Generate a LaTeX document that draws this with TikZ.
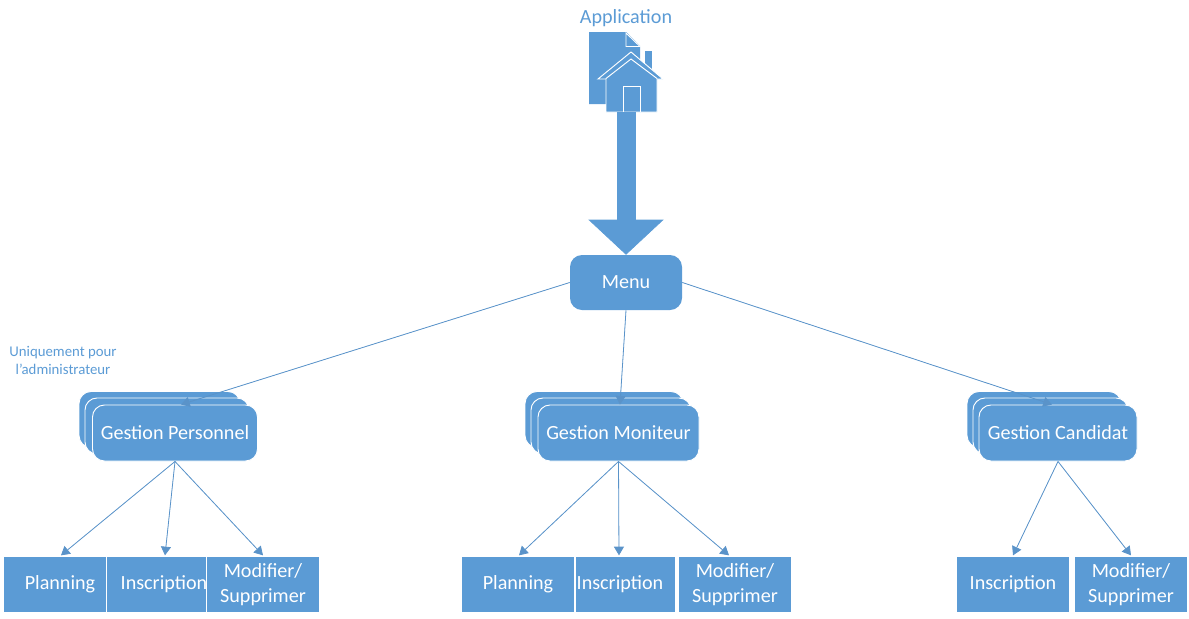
\documentclass[tikz,border=0pt]{standalone}
\usepackage{fontspec}
\setmainfont{Carlito}
\usepackage{xcolor}
\usetikzlibrary{arrows.meta,positioning,calc}
\definecolor{appblue}{HTML}{5B9BD5}
\definecolor{linkblue}{HTML}{5A93C9}

\begin{document}
\begin{tikzpicture}[
    x=0.75pt,y=-0.75pt,
    title/.style={text=appblue,font=\fontsize{15.1}{18}\selectfont},
    note/.style={text=appblue,align=center,font=\fontsize{11.1}{13}\selectfont},
    menubox/.style={rectangle,rounded corners=9pt,minimum width=84pt,minimum height=41.25pt,inner sep=0pt,fill=appblue,text=white,font=\fontsize{15.1}{18}\selectfont},
    stackbox/.style={rectangle,rounded corners=9pt,minimum height=42pt,inner sep=0pt,draw=white,line width=0.7pt,fill=appblue,text=white,font=\fontsize{15.1}{18}\selectfont},
    leafbox/.style={rectangle,minimum width=84.5pt,minimum height=41.75pt,inner sep=0pt,draw=white,line width=0.5pt,fill=appblue,text=white,align=center,font=\fontsize{15.1}{18.75}\selectfont},
    iconpart/.style={fill=appblue,draw=white,line width=0.7pt},
    arrow/.style={-{Triangle[length=6.5pt,width=7.5pt]},line width=0.6pt,draw=linkblue,fill=appblue},
    bigshaft/.style={line width=14.25pt,draw=appblue},
    bigarrow/.style={-{Triangle[length=26.25pt,width=56.25pt]},line width=0.5pt,draw=appblue}
]
\useasboundingbox (0,0) rectangle (1189,618);

% Title
\node[title] (app) at (626,18) {Application};

% Icon
\fill[appblue] (589,32) -- (626,32) -- (640,46) -- (640,70) -- (606,104) -- (589,104) -- cycle;
\filldraw[iconpart] (626,33) -- (640,46.5) -- (626,46.5) -- cycle;
\fill[appblue] (645,51) rectangle (652,70);
\filldraw[iconpart] (598,79) -- (631,52) -- (663,79) -- cycle;
\filldraw[iconpart] (606,112) -- (606,78.5) -- (631,59) -- (657,78.5) -- (657,112) -- cycle;
\draw[white,line width=0.7pt] (623,112) -- (623,86) -- (640,86) -- (640,112);
\coordinate (appfoot) at (626,112);
\coordinate (bighead) at (626,221);

% Menu
\node[menubox] (menu) at (626,282.5) {Menu};

% Note
\node[note] (adminnote) at (63,360.5) {Uniquement pour\\l'administrateur};

% Gestion Personnel
\node[stackbox,minimum width=120.75pt] (persback) at (159.5,419.5) {};
\node[stackbox,minimum width=123pt] (persmid) at (167,426) {};
\node[stackbox,minimum width=123.75pt] (persfront) at (175,433) {Gestion Personnel};

% Gestion Moniteur
\node[stackbox,minimum width=118.5pt] (moniback) at (604,419.5) {};
\node[stackbox,minimum width=120pt] (monimid) at (611,426) {};
\node[stackbox,minimum width=120.75pt] (monifront) at (618.5,433) {Gestion Moniteur};

% Gestion Candidat
\node[stackbox,minimum width=115.5pt] (candback) at (1044,419.5) {};
\node[stackbox,minimum width=116.25pt] (candmid) at (1050.5,426) {};
\node[stackbox,minimum width=118.5pt] (candfront) at (1058,433) {Gestion Candidat};

% Personnel actions
\node[leafbox,minimum width=77.75pt] (persplan) at (55.5,584.5) {\hspace*{6.75pt}Planning};
\node[leafbox,minimum width=75.25pt] (persins) at (157,584.5) {\hspace*{10.5pt}Inscription};
\node[leafbox] (persmod) at (263,584.5) {Modifier/\\Supprimer};

% Moniteur actions
\node[leafbox] (moniplan) at (518,584.5) {Planning};
\node[leafbox,minimum width=75.25pt] (moniins) at (625,584.5) {\hspace*{-7.5pt}Inscription};
\node[leafbox] (monimod) at (735,584.5) {Modifier/\\Supprimer};

% Candidat actions
\node[leafbox] (candins) at (1013,584.5) {Inscription};
\node[leafbox] (candmod) at (1131,584.5) {Modifier/\\Supprimer};

% Arrows
\draw[bigshaft] (appfoot) -- (bighead);
\draw[bigarrow] (bighead) -- (menu.north);
\draw[arrow] (menu.west) -- ($(persfront.north)+(6,0)$);
\draw[arrow] (menu.south) -- ($(monifront.north)+(1.5,0)$);
\draw[arrow] (menu.east) -- ($(candfront.north)+(-6,0)$);
\draw[arrow] (persfront.south) -- ($(persplan.north)+(5.5,-1)$);
\draw[arrow] (persfront.south) -- ($(persins.north)+(8,-1)$);
\draw[arrow] (persfront.south) -- ($(persmod.north)+(0,-1)$);
\draw[arrow] (monifront.south) -- ($(moniplan.north)+(1,-1)$);
\draw[arrow] (monifront.south) -- ($(moniins.north)+(-6,-1)$);
\draw[arrow] (monifront.south) -- ($(monimod.north)+(-6,-1)$);
\draw[arrow] (candfront.south) -- ($(candins.north)+(0,-1)$);
\draw[arrow] (candfront.south) -- ($(candmod.north)+(0,-1)$);
\end{tikzpicture}
\end{document}
